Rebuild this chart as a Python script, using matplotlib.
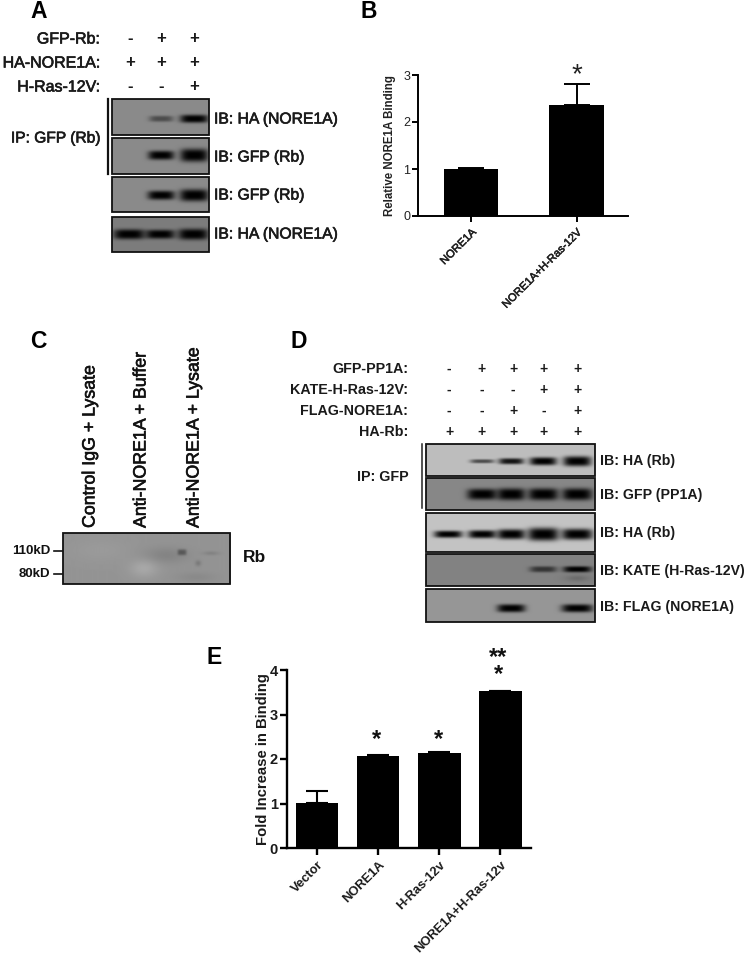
import numpy as np
import matplotlib
matplotlib.use('Agg')
import matplotlib.pyplot as plt
import matplotlib.patheffects as pe
from matplotlib.patches import Rectangle

plt.rcParams['font.family'] = ['Liberation Sans', 'DejaVu Sans']

# values
b_labels = ['NORE1A', 'NORE1A+H-Ras-12V']
b_values = [1.0, 2.36]
b_errors = [0.02, 0.45]
b_ticks = [0, 1, 2, 3]

e_labels = ['Vector', 'NORE1A', 'H-Ras-12v', 'NORE1A+H-Ras-12v']
e_values = [1.02, 2.06, 2.13, 3.52]
e_errors = [0.25, 0.02, 0.02, 0.0]
e_ticks = [0, 1, 2, 3, 4]

# signs above the blots
a_rows = ['GFP-Rb:', 'HA-NORE1A:', 'H-Ras-12V:']
a_signs = [['-', '+', '+'], ['+', '+', '+'], ['-', '-', '+']]
d_rows = ['GFP-PP1A:', 'KATE-H-Ras-12V:', 'FLAG-NORE1A:', 'HA-Rb:']
d_signs = [['-', '+', '+', '+', '+'], ['-', '-', '-', '+', '+'],
           ['-', '-', '+', '-', '+'], ['+', '+', '+', '+', '+']]

# band strength per lane (0 = no band)
a_ha_ip = [0, 0.45, 1.0]
a_gfp_ip = [0, 1.0, 1.0]
a_gfp_in = [0, 1.0, 1.0]
a_ha_in = [1.0, 1.0, 1.0]
d_ha_ip = [0, 0.6, 0.9, 1.0, 1.0]
d_gfp_ip = [0, 1.0, 1.0, 1.0, 1.0]
d_ha_in = [1.0, 1.0, 1.0, 1.0, 1.0]
d_kate = [0, 0, 0, 0.6, 1.0]
d_flag = [0, 0, 1.0, 0, 1.0]

a_ib = ['IB: HA (NORE1A)', 'IB: GFP (Rb)', 'IB: GFP (Rb)', 'IB: HA (NORE1A)']
d_ib = ['IB: HA (Rb)', 'IB: GFP (PP1A)', 'IB: HA (Rb)', 'IB: KATE (H-Ras-12V)', 'IB: FLAG (NORE1A)']
c_lanes = ['Control IgG + Lysate', 'Anti-NORE1A + Buffer', 'Anti-NORE1A + Lysate']
c_markers = ['110kD', '80kD']

W, H = 745, 959
fig = plt.figure(figsize=(W / 100, H / 100), dpi=100)
ov = fig.add_axes([0, 0, 1, 1])
ov.set_axis_off()

# slightly heavier than the regular weight, like the blurred scan
medium = [pe.withStroke(linewidth=0.45, foreground='#1a1a1a')]


def blot(box, bg, lanes, strengths, yc, widths, heights, extra=None):
    # box is left, top, right, bottom in figure pixels
    l, t, r, b = box
    xs, ys = np.meshgrid(np.arange(l, r, 0.5), np.arange(t, b, 0.5))
    img = np.full(xs.shape, float(bg))
    for x0, s, w, h in zip(lanes, strengths, widths, heights):
        if s == 0:
            continue
        shape = np.exp(-np.abs((xs - x0) / (w / 2)) ** 4) * np.exp(-np.abs((ys - yc) / (h / 2)) ** 3)
        img = img * (1 - s * shape)
    if extra:
        for x0, y0, w, h, amt in extra:
            img = img + amt * np.exp(-((xs - x0) / w) ** 2 - ((ys - y0) / h) ** 2)
    ov.imshow(img, extent=(l, r, b, t), cmap='gray', vmin=0, vmax=255, aspect='auto',
              interpolation='bilinear')
    ov.add_patch(Rectangle((l, t), r - l, b - t, fill=False, ec='#111111', lw=1.3))


def px_axes(l, t, r, b):
    ax = fig.add_axes([l / W, 1 - b / H, (r - l) / W, (b - t) / H])
    ax.patch.set_alpha(0)
    for s in ['top', 'right']:
        ax.spines[s].set_visible(False)
    return ax


# panel A
a_lanes = [130, 161, 194]
a_text = [130, 161, 194]
blot((112, 99, 209, 135), 138, a_lanes, a_ha_ip, 118.5, [25, 24, 28], [7, 6, 8])
blot((112, 138, 209, 174), 138, a_lanes, a_gfp_ip, 155, [25, 26, 28], [9, 9, 13])
blot((112, 177, 209, 212), 138, a_lanes, a_gfp_in, 195, [25, 27, 29], [9, 9, 12])
blot((112, 217, 209, 252), 125, [129, 160, 193], a_ha_in, 234, [31, 29, 30], [10, 9, 11])
for row, signs, y in zip(a_rows, a_signs, [39, 63, 87]):
    ov.text(100, y, row, ha='right', va='center', fontsize=11.5, color='#1a1a1a', path_effects=medium)
    for x, s in zip(a_text, signs):
        ov.text(x, y, s, ha='center', va='center', fontsize=12, fontweight='bold', color='#1a1a1a')
for lab, y in zip(a_ib, [119, 157, 195, 234]):
    ov.text(214, y, lab, ha='left', va='center', fontsize=11.3, color='#1a1a1a', path_effects=medium)
ov.text(100, 138, 'IP: GFP (Rb)', ha='right', va='center', fontsize=11.2, color='#1a1a1a', path_effects=medium)
ov.plot([107.5, 107.5], [99, 174], color='#111111', lw=1.6)

# panel C
blot((62.5, 533, 230, 584), 148, [181], [0.35], 552, [9], [6],
     extra=[(143, 568, 14, 9, 20), (195, 577, 20, 5, -10), (165, 555, 22, 8, -16),
            (197, 563, 3, 3, -25), (210, 553, 8, 2, -18), (100, 550, 30, 12, 6)])
for lab, x in zip(c_lanes, [90, 141, 194]):
    ov.text(x, 528, lab, rotation=90, ha='center', va='bottom', fontsize=12.8, color='#111111',
            path_effects=medium)
for lab, y in zip(c_markers, [551, 574]):
    ov.text(50, y, lab, ha='right', va='center', fontsize=9.5, fontweight='bold', color='#111111')
    ov.plot([54, 62], [y, y], color='#111111', lw=1.2)
ov.text(243, 557, 'Rb', ha='left', va='center', fontsize=12.5, fontweight='bold', color='#111111')

# panel D
d_lanes = [448, 482, 511, 543, 577]
d_text = [449, 482, 513, 544, 577]
blot((426, 444, 595, 476), 190, d_lanes, d_ha_ip, 461, [24, 24, 25, 27, 28], [4, 4, 6, 8, 10])
blot((426, 478, 595, 510), 135, d_lanes, d_gfp_ip, 494, [26, 30, 28, 30, 30], [10, 11, 12, 12, 12])
blot((426, 513, 595, 552), 195, d_lanes, d_ha_in, 534, [28, 28, 28, 31, 31], [7, 8, 10, 13, 11])
blot((426, 554, 595, 586), 130, d_lanes, d_kate, 569, [25, 25, 25, 27, 28], [6, 6, 6, 6, 6],
     extra=[(577, 578, 12, 3, -22)])
blot((426, 589, 595, 622), 150, d_lanes, d_flag, 608, [26, 26, 28, 26, 31], [7, 7, 8, 7, 8])
for row, signs, y in zip(d_rows, d_signs, [369, 390, 411, 432]):
    ov.text(408, y, row, ha='right', va='center', fontsize=10.3, fontweight='bold', color='#1a1a1a')
    for x, s in zip(d_text, signs):
        ov.text(x, y, s, ha='center', va='center', fontsize=10, fontweight='bold', color='#1a1a1a')
for lab, y in zip(d_ib, [461, 495, 533, 571, 607]):
    ov.text(600, y, lab, ha='left', va='center', fontsize=10.2, fontweight='bold', color='#1a1a1a')
ov.text(409, 477, 'IP: GFP', ha='right', va='center', fontsize=10.3, fontweight='bold', color='#1a1a1a')
ov.plot([422, 422], [444, 508], color='#222222', lw=1.1)

# panel letters
for lab, x, y in [('A', 30, 11), ('B', 360, 11), ('C', 30, 342), ('D', 290, 341), ('E', 207, 657)]:
    ov.text(x, y, lab, ha='left', va='center', fontsize=16.5, fontweight='bold', color='black')

# stars
ov.text(577, 75, '*', ha='center', va='center', fontsize=20, color='#222222')
for x, y, s in [(376, 740, '*'), (438, 740, '*')]:
    ov.text(x, y, s, ha='center', va='center', fontsize=17, fontweight='bold', color='#111111')
ov.text(498, 666, '**\n*', ha='center', va='center', fontsize=17, fontweight='bold', color='#111111',
        linespacing=0.62)

ov.set_xlim(0, W)
ov.set_ylim(H, 0)

# panel B
ax_b = px_axes(418, 75, 628, 216)
x_b = np.arange(len(b_values))
ax_b.bar(x_b, b_values, width=0.515, color='black')
ax_b.errorbar(x_b, b_values, yerr=[[0, 0], b_errors], fmt='none', ecolor='black',
              elinewidth=1.4, capsize=9.7, capthick=1.4)
ax_b.set_xlim(-0.502, 1.488)
ax_b.set_ylim(0, 3)
ax_b.set_yticks(b_ticks)
ax_b.set_xticks(x_b)
ax_b.set_xticklabels(b_labels, rotation=45, ha='right', rotation_mode='anchor', fontsize=8,
                     color='#222222', path_effects=[pe.withStroke(linewidth=0.4, foreground='#222222')])
ax_b.tick_params(axis='y', length=4, width=1.4, pad=1.5, labelsize=9, labelcolor='#222222')
ax_b.tick_params(axis='x', length=4, width=1.4, pad=4)
ax_b.set_ylabel('Relative NORE1A Binding', fontsize=8.3, fontweight='bold', color='#222222', labelpad=5)
for s in ['left', 'bottom']:
    ax_b.spines[s].set_linewidth(1.4)

# panel E
ax_e = px_axes(287, 670, 531, 848)
x_e = np.arange(len(e_values))
ax_e.bar(x_e, e_values, width=0.695, color='black')
ax_e.errorbar(x_e, e_values, yerr=[[0] * 4, e_errors], fmt='none', ecolor='black',
              elinewidth=1.5, capsize=7.7, capthick=1.5)
ax_e.set_xlim(-0.49, 3.5)
ax_e.set_ylim(0, 4)
ax_e.set_yticks(e_ticks)
ax_e.set_xticks(x_e)
ax_e.set_xticklabels(e_labels, rotation=45, ha='right', rotation_mode='anchor', fontsize=9.3,
                     fontweight='bold', color='#1a1a1a')
ax_e.tick_params(axis='y', length=5, width=1.7, pad=1.5, labelsize=10.5, labelcolor='#1a1a1a')
for t in ax_e.get_yticklabels():
    t.set_fontweight('bold')
ax_e.tick_params(axis='x', length=5, width=1.7, pad=3)
ax_e.set_ylabel('Fold Increase in Binding', fontsize=10.7, fontweight='bold', color='#1a1a1a', labelpad=0)
for s in ['left', 'bottom']:
    ax_e.spines[s].set_linewidth(1.7)

fig.savefig('out.png', dpi=100)
